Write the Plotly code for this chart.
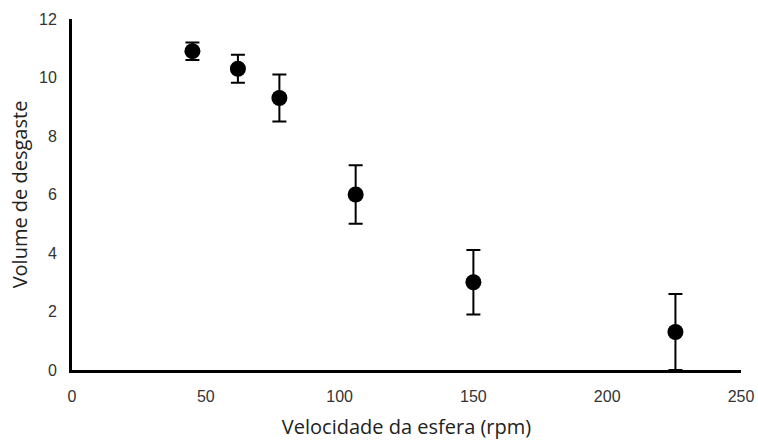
import plotly.graph_objects as go

velocidade = [45, 62, 77.5, 106, 150, 225.5]
volume = [10.9, 10.3, 9.3, 6.0, 3.0, 1.3]
erro = [0.3, 0.48, 0.8, 1.0, 1.1, 1.3]
x_ticks = [0, 50, 100, 150, 200, 250]
y_ticks = [0, 2, 4, 6, 8, 10, 12]

fig = go.Figure()
fig.add_trace(go.Scatter(
    x=velocidade, y=volume, mode="markers",
    marker=dict(color="black", size=16),
    error_y=dict(type="data", array=erro, visible=True, color="black",
                 thickness=2, width=7),
    showlegend=False, cliponaxis=False,
))

tick_font = dict(family="Liberation Sans, Arial", size=16, color="#333")
title_font = dict(family="Open Sans, Noto Sans", size=20, color="#222")

fig.update_layout(
    width=758, height=440,
    margin=dict(l=72, r=17, t=19, b=70),
    plot_bgcolor="white", paper_bgcolor="white",
    xaxis=dict(range=[0, 250], tickvals=x_ticks, showgrid=False, zeroline=False,
               showline=True, linecolor="black", linewidth=3, automargin=False,
               ticks="", tickfont=tick_font, ticklabelstandoff=10,
               title=dict(text="Velocidade da esfera (rpm)", font=title_font, standoff=18)),
    yaxis=dict(range=[0, 12], tickvals=y_ticks, showgrid=False, zeroline=False,
               showline=True, linecolor="black", linewidth=3, automargin=False,
               ticks="", tickfont=tick_font, ticklabelstandoff=9,
               title=dict(text="Volume de desgaste", font=title_font, standoff=7)),
)

fig.write_html("out.html")
